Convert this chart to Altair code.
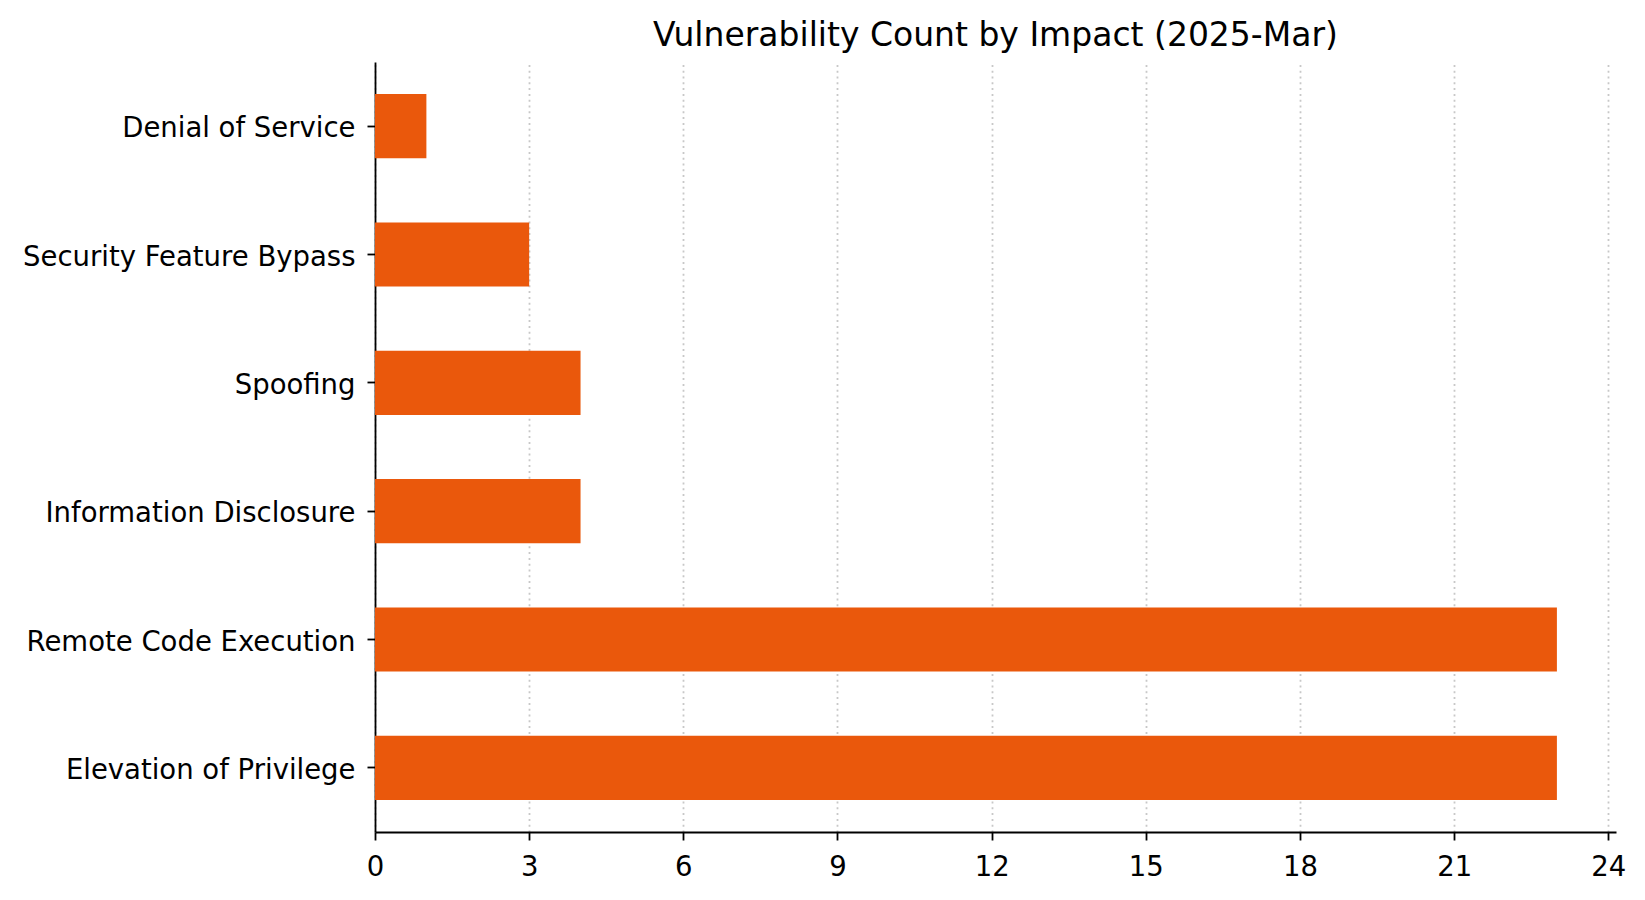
import altair as alt
import pandas as pd

categories = ["Denial of Service", "Security Feature Bypass", "Spoofing",
              "Information Disclosure", "Remote Code Execution", "Elevation of Privilege"]
counts = [1, 3, 4, 4, 23, 23]
x_ticks = [0, 3, 6, 9, 12, 15, 18, 21, 24]

df = pd.DataFrame({"impact": categories, "count": counts})

FONT = "DejaVu Sans"

chart = alt.Chart(df).mark_bar(color="#ea580c").encode(
    x=alt.X("count:Q",
            scale=alt.Scale(domain=[0, 24.15], nice=False, zero=True),
            axis=alt.Axis(values=x_ticks, title=None, grid=True,
                          gridDash=[2, 3.8], gridColor="#c8c8c8", gridWidth=1.8,
                          domainColor="black", domainWidth=1.8,
                          tickColor="black", tickWidth=1.8, tickSize=8,
                          labelPadding=13, labelFontSize=27.5, labelFont=FONT,
                          labelColor="black", labelFlush=False)),
    y=alt.Y("impact:N", sort=categories,
            scale=alt.Scale(paddingInner=0.5, paddingOuter=0.25),
            axis=alt.Axis(title=None, grid=False,
                          domainColor="black", domainWidth=1.8,
                          tickColor="black", tickWidth=1.8, tickSize=8,
                          labelPadding=12, labelFontSize=27.5, labelFont=FONT,
                          labelColor="black", labelLimit=0, labelOffset=3)),
).properties(
    width=1241,
    height=770,
    background="white",
    title=alt.TitleParams("Vulnerability Count by Impact (2025-Mar)",
                          font=FONT, fontSize=33, fontWeight="normal",
                          color="black", anchor="middle", offset=-17,
                          baseline="alphabetic"),
    autosize=alt.AutoSizeParams(type="none"),
    padding={"left": 375, "top": 62, "right": 29, "bottom": 68},
).configure_view(stroke=None)

chart.save("out.html", embed_options={"renderer": "svg", "actions": False})
